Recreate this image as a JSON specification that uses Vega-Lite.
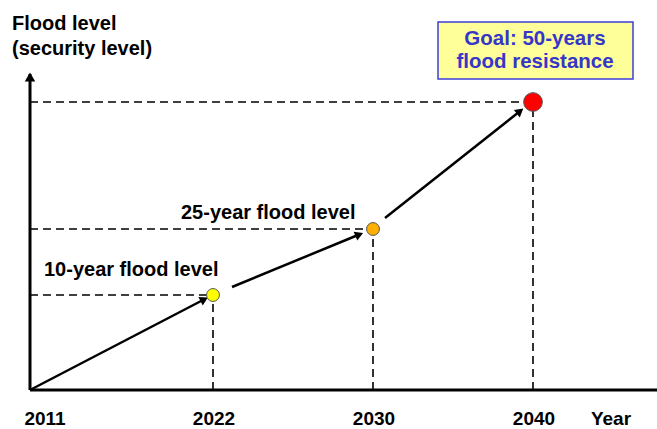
{
  "$schema": "https://vega.github.io/schema/vega-lite/v6.json",
  "width": 657,
  "height": 429,
  "autosize": "none",
  "padding": 0,
  "background": "white",
  "config": {"view": {"stroke": null}, "text": {"font": "Liberation Sans", "fontWeight": "bold"}},
  "datasets": {
    "points": [
      {"year": "2022", "pos": 213, "level": 95, "kind": "10-year"},
      {"year": "2030", "pos": 373, "level": 161, "kind": "25-year"},
      {"year": "2040", "pos": 533, "level": 288, "kind": "50-year"}
    ],
    "dashes": [
      {"x": 30, "x2": 213, "y": 95, "y2": 95},
      {"x": 30, "x2": 373, "y": 161, "y2": 161},
      {"x": 30, "x2": 533, "y": 288, "y2": 288},
      {"x": 213, "x2": 213, "y": 0, "y2": 95},
      {"x": 373, "x2": 373, "y": 0, "y2": 161},
      {"x": 533, "x2": 533, "y": 0, "y2": 288}
    ],
    "arrows": [
      {"x": 30, "y": 0, "x2": 203, "y2": 90, "angle": 62.5},
      {"x": 232, "y": 103, "x2": 358, "y2": 155, "angle": 67.6},
      {"x": 385, "y": 172, "x2": 519, "y2": 278, "angle": 51.5}
    ],
    "years": [
      {"label": "2011", "pos": 45, "level": -29},
      {"label": "2022", "pos": 214, "level": -29},
      {"label": "2030", "pos": 374, "level": -29},
      {"label": "2040", "pos": 534, "level": -29},
      {"label": "Year", "pos": 611, "level": -29}
    ],
    "titles": [
      {"label": "Flood level", "pos": 12, "level": 366},
      {"label": "(security level)", "pos": 12, "level": 341}
    ],
    "levelLabels": [
      {"label": "10-year flood level", "pos": 44, "level": 120},
      {"label": "25-year flood level", "pos": 181, "level": 177}
    ],
    "goal": [
      {"label": "Goal: 50-years", "pos": 535, "level": 351},
      {"label": "flood resistance", "pos": 535, "level": 328}
    ],
    "box": [{"x": 438, "x2": 633, "y": 311, "y2": 368}],
    "axes": [
      {"x": 30, "x2": 30, "y": 0, "y2": 316},
      {"x": 30, "x2": 657, "y": 0, "y2": 0}
    ],
    "axisHead": [{"x": 30, "y": 313}]
  },
  "layer": [
    {
      "data": {"name": "box"},
      "mark": {"type": "rect", "fill": "#ffff99", "stroke": "#3f3fd9", "strokeWidth": 1.5},
      "encoding": {
        "x": {"field": "x", "type": "quantitative", "scale": {"domain": [0, 657], "nice": false, "zero": false}, "axis": null},
        "x2": {"field": "x2"},
        "y": {"field": "y", "type": "quantitative", "scale": {"domain": [-39, 390], "nice": false, "zero": false}, "axis": null},
        "y2": {"field": "y2"}
      }
    },
    {
      "data": {"name": "dashes"},
      "mark": {"type": "rule", "strokeDash": [8, 5], "strokeWidth": 1.6, "color": "black"},
      "encoding": {
        "x": {"field": "x", "type": "quantitative"},
        "x2": {"field": "x2"},
        "y": {"field": "y", "type": "quantitative"},
        "y2": {"field": "y2"}
      }
    },
    {
      "data": {"name": "axes"},
      "mark": {"type": "rule", "strokeWidth": 3, "color": "black"},
      "encoding": {
        "x": {"field": "x", "type": "quantitative"},
        "x2": {"field": "x2"},
        "y": {"field": "y", "type": "quantitative"},
        "y2": {"field": "y2"}
      }
    },
    {
      "data": {"name": "axisHead"},
      "mark": {"type": "point", "shape": "triangle-up", "filled": true, "color": "black", "size": 110, "opacity": 1},
      "encoding": {
        "x": {"field": "x", "type": "quantitative"},
        "y": {"field": "y", "type": "quantitative"}
      }
    },
    {
      "data": {"name": "arrows"},
      "mark": {"type": "rule", "strokeWidth": 2.5, "color": "black"},
      "encoding": {
        "x": {"field": "x", "type": "quantitative"},
        "x2": {"field": "x2"},
        "y": {"field": "y", "type": "quantitative"},
        "y2": {"field": "y2"}
      }
    },
    {
      "data": {"name": "arrows"},
      "mark": {"type": "point", "shape": "triangle", "filled": true, "color": "black", "size": 90, "opacity": 1},
      "encoding": {
        "x": {"field": "x2", "type": "quantitative"},
        "y": {"field": "y2", "type": "quantitative"},
        "angle": {"field": "angle", "type": "quantitative", "scale": {"domain": [0, 360], "range": [0, 360]}}
      }
    },
    {
      "data": {"name": "points"},
      "transform": [{"filter": "datum.kind !== '50-year'"}],
      "mark": {"type": "point", "filled": true, "stroke": "#555555", "strokeWidth": 1, "opacity": 1, "size": 165},
      "encoding": {
        "x": {"field": "pos", "type": "quantitative"},
        "y": {"field": "level", "type": "quantitative"},
        "fill": {"field": "kind", "type": "nominal", "scale": {"domain": ["10-year", "25-year", "50-year"], "range": ["#ffff00", "#ffb000", "#ff0000"]}, "legend": null}
      }
    },
    {
      "data": {"name": "points"},
      "transform": [{"filter": "datum.kind === '50-year'"}],
      "mark": {"type": "point", "filled": true, "stroke": "#555555", "strokeWidth": 1, "opacity": 1, "size": 350},
      "encoding": {
        "x": {"field": "pos", "type": "quantitative"},
        "y": {"field": "level", "type": "quantitative"},
        "fill": {"field": "kind", "type": "nominal", "legend": null}
      }
    },
    {
      "data": {"name": "years"},
      "mark": {"type": "text", "fontSize": 19, "align": "center", "baseline": "middle", "color": "black"},
      "encoding": {
        "x": {"field": "pos", "type": "quantitative"},
        "y": {"field": "level", "type": "quantitative"},
        "text": {"field": "label"}
      }
    },
    {
      "data": {"name": "titles"},
      "mark": {"type": "text", "fontSize": 20, "align": "left", "baseline": "middle", "color": "black"},
      "encoding": {
        "x": {"field": "pos", "type": "quantitative"},
        "y": {"field": "level", "type": "quantitative"},
        "text": {"field": "label"}
      }
    },
    {
      "data": {"name": "levelLabels"},
      "mark": {"type": "text", "fontSize": 20, "align": "left", "baseline": "middle", "color": "black"},
      "encoding": {
        "x": {"field": "pos", "type": "quantitative"},
        "y": {"field": "level", "type": "quantitative"},
        "text": {"field": "label"}
      }
    },
    {
      "data": {"name": "goal"},
      "mark": {"type": "text", "fontSize": 20.5, "align": "center", "baseline": "middle", "color": "#3636c8"},
      "encoding": {
        "x": {"field": "pos", "type": "quantitative"},
        "y": {"field": "level", "type": "quantitative"},
        "text": {"field": "label"}
      }
    }
  ]
}
